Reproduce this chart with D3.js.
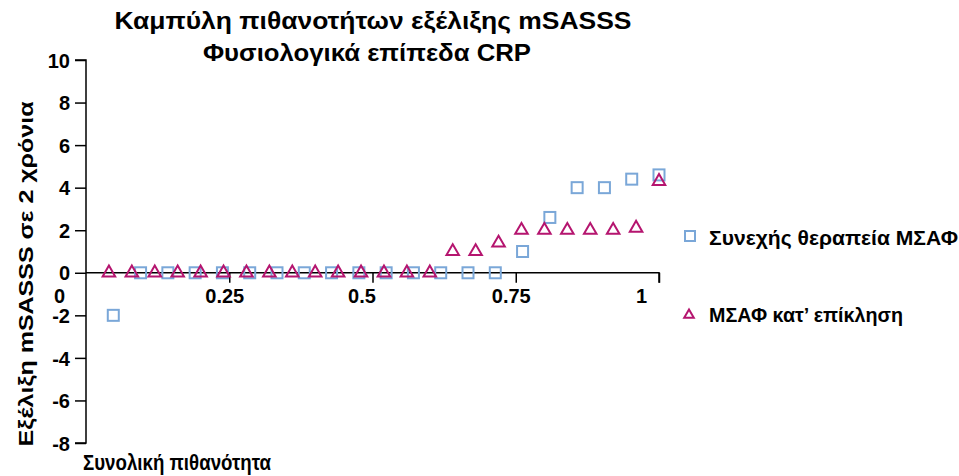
<!DOCTYPE html>
<html>
<head>
<meta charset="utf-8">
<script src="https://cdn.jsdelivr.net/npm/d3@7"></script>
<style>
  html, body { margin: 0; padding: 0; background: #fff; }
  svg text { font-family: "Liberation Sans", Arial, sans-serif; font-weight: bold; fill: #000; }
</style>
</head>
<body>
<svg id="chart" width="959" height="476"></svg>
<script>
// Overall probability (x) and change in mSASSS over 2 years (y)
const continuousValues = [-2, 0, 0, 0, 0, 0, 0, 0, 0, 0, 0, 0, 0, 0, 0, 1, 2.6, 4, 4, 4.4, 4.6];
const onDemandValues = [0, 0, 0, 0, 0, 0, 0, 0, 0, 0, 0, 0, 0, 0, 0, 1, 1, 1.4, 2, 2, 2, 2, 2, 2.1, 4.3];
const xTicks = [0, 0.25, 0.5, 0.75, 1];
const xTickLabels = ["0", "0.25", "0.5", "0.75", "1"];
const yTicks = [10, 8, 6, 4, 2, 0, -2, -4, -6, -8];
const seriesNames = ["Συνεχής θεραπεία ΜΣΑΦ", "ΜΣΑΦ κατ’ επίκληση"];
const titleLines = ["Καμπύλη πιθανοτήτων εξέλιξης mSASSS", "Φυσιολογικά επίπεδα CRP"];
const yTitle = "Εξέλιξη mSASSS σε 2 χρόνια";
const xTitle = "Συνολική πιθανότητα";

// cumulative probability for each sorted observation
const continuousPts = continuousValues.map((v, i) => ({ p: (i + 1) / continuousValues.length, v }));
const onDemandPts = onDemandValues.map((v, i) => ({ p: (i + 1) / onDemandValues.length, v }));

const svg = d3.select("#chart");
const x = d3.scaleLinear().domain([0, 1]).range([86, 659]);
const y = d3.scaleLinear().domain([-8, 10]).range([443, 60]);

const blue = "#7aa7d8";
const magenta = "#b5156f";

// title (two centred lines)
const titleLayout = [{ cx: 373, y: 29, len: 517 }, { cx: 367, y: 61, len: 328 }];
svg.append("g").selectAll("text").data(titleLines).join("text")
  .attr("x", (d, i) => titleLayout[i].cx).attr("y", (d, i) => titleLayout[i].y)
  .attr("text-anchor", "middle").style("font-size", "24px")
  .attr("textLength", (d, i) => titleLayout[i].len).attr("lengthAdjust", "spacingAndGlyphs")
  .text(d => d);

const fmt = d => String(d); // plain hyphen for negatives

// y axis
const yAxis = svg.append("g").attr("transform", `translate(${x(0)},0)`)
  .call(d3.axisLeft(y).tickValues(yTicks).tickSize(11).tickPadding(5).tickFormat(fmt));
yAxis.select(".domain").attr("stroke", "#000").attr("stroke-width", 1.5).attr("d", `M-11,${y(10)}H0V${y(-8)}H-11`);
yAxis.selectAll(".tick line").attr("stroke", "#000").attr("stroke-width", 1.5);
yAxis.selectAll(".tick text").style("font-size", "20px").attr("font-family", null).attr("dy", "0.36em");

// x axis through zero
const xAxis = svg.append("g").attr("transform", `translate(0,${y(0)})`)
  .call(d3.axisBottom(x).tickValues(xTicks).tickSize(10).tickPadding(4).tickFormat((d, i) => xTickLabels[i]));
xAxis.select(".domain").attr("stroke", "#000").attr("stroke-width", 1.5).attr("d", `M${x(0)},0H${x(1)}V10`);
xAxis.selectAll(".tick line").attr("stroke", "#000").attr("stroke-width", 1.5)
  .attr("opacity", d => d === 0 ? 0 : 1);
const labelShift = [-27, -5, -11, -5, -18];
xAxis.selectAll(".tick text").style("font-size", "20px").attr("font-family", null)
  .attr("dx", (d, i) => labelShift[i]).attr("dy", "0.82em");

// axis titles
svg.append("text").attr("transform", `translate(33,274) rotate(-90)`)
  .attr("text-anchor", "middle").style("font-size", "20px")
  .attr("textLength", 345).attr("lengthAdjust", "spacingAndGlyphs").text(yTitle);
svg.append("text").attr("x", 83).attr("y", 470).style("font-size", "22px")
  .attr("textLength", 188).attr("lengthAdjust", "spacingAndGlyphs").text(xTitle);

// markers
const sq = 11;
svg.append("g").selectAll("rect").data(continuousPts).join("rect")
  .attr("x", d => x(d.p) - sq / 2).attr("y", d => y(d.v) - sq / 2)
  .attr("width", sq).attr("height", sq)
  .attr("fill", "none").attr("stroke", blue).attr("stroke-width", 2);

const tri = d3.symbol().type(d3.symbolTriangle).size(68);
svg.append("g").selectAll("path").data(onDemandPts).join("path")
  .attr("transform", d => `translate(${x(d.p)},${y(d.v)})`)
  .attr("d", tri).attr("fill", "none").attr("stroke", magenta).attr("stroke-width", 2);

// legend
const legend = svg.append("g");
legend.append("rect").attr("x", 685).attr("y", 231).attr("width", 10).attr("height", 10)
  .attr("fill", "none").attr("stroke", blue).attr("stroke-width", 2);
legend.append("text").attr("x", 709).attr("y", 245).style("font-size", "21px")
  .attr("textLength", 249).attr("lengthAdjust", "spacingAndGlyphs").text(seriesNames[0]);
legend.append("path").attr("transform", "translate(689,315)").attr("d", d3.symbol().type(d3.symbolTriangle).size(40))
  .attr("fill", "none").attr("stroke", magenta).attr("stroke-width", 2);
legend.append("text").attr("x", 709).attr("y", 322).style("font-size", "21px")
  .attr("textLength", 194).attr("lengthAdjust", "spacingAndGlyphs").text(seriesNames[1]);
</script>
</body>
</html>
